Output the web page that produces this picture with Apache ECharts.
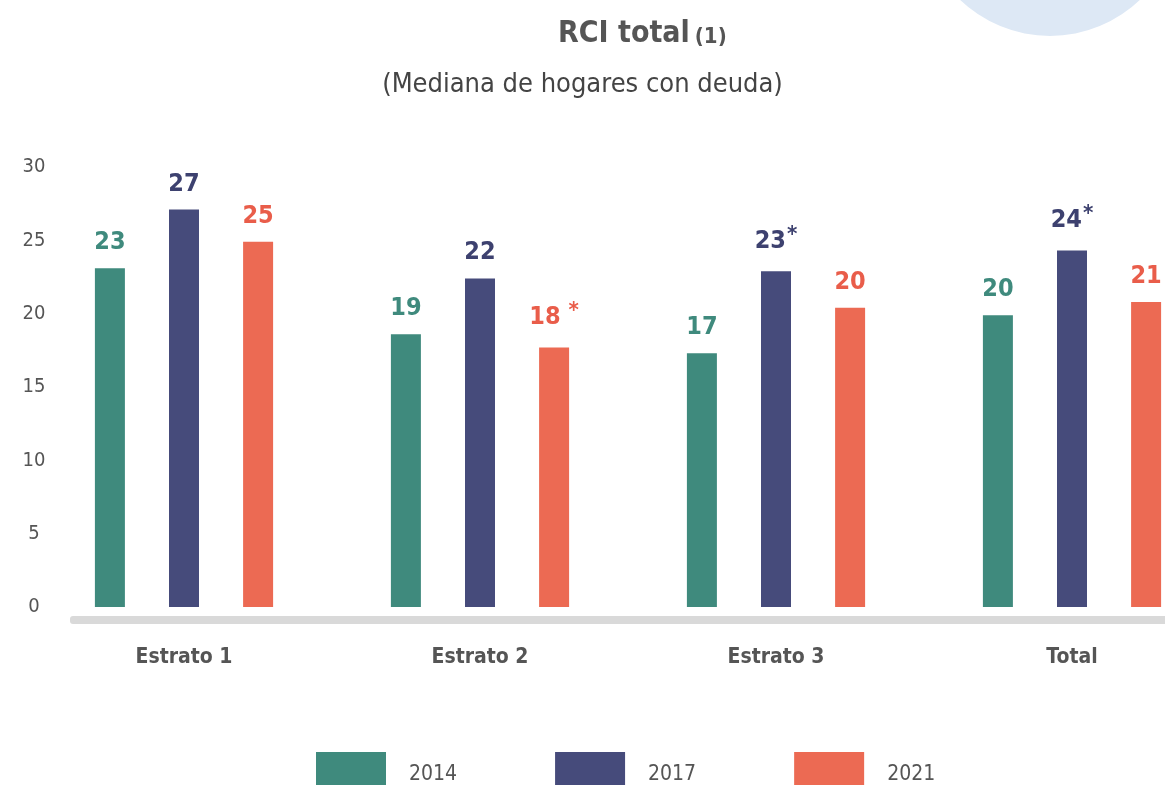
<!DOCTYPE html>
<html>
<head>
<meta charset="utf-8">
<script src="https://cdn.jsdelivr.net/npm/echarts@6/dist/echarts.min.js"></script>
<style>
  html, body { margin: 0; padding: 0; background: #fff; }
  #chart { width: 1165px; height: 785px; }
</style>
</head>
<body>
<div id="chart"></div>
<script>
const categories = ['Estrato 1', 'Estrato 2', 'Estrato 3', 'Total'];
const years = ['2014', '2017', '2021'];
const values2014 = [23.1, 18.6, 17.3, 19.9];
const values2017 = [27.1, 22.4, 22.9, 24.3];
const values2021 = [24.9, 17.7, 20.4, 20.8];
// asterisk marks on the value labels
const star2014 = [false, false, false, false];
const star2017 = [false, false, true, true];
const star2021 = [false, true, false, false];
const yTicks = [0, 5, 10, 15, 20, 25, 30];

const FONT = '"Liberation Sans Narrow", "DejaVu Sans Condensed", "Noto Sans", sans-serif';
const barColors = ['#3f8a7d', '#464b7b', '#ec6a53'];
const labelColors = ['#3f8a7d', '#3d416f', '#e95d4a'];

function makeSeries(name, values, stars, i) {
  return {
    name: name,
    type: 'bar',
    barWidth: 30,
    barGap: '147%',
    data: values,
    itemStyle: { color: barColors[i] },
    label: {
      show: true,
      position: 'top',
      distance: 13,
      fontFamily: FONT,
      formatter: p => {
        const v = Math.round(p.value);
        const s = stars[p.dataIndex];
        return s ? '{v|' + v + '}{s|' + (i === 2 ? ' *' : '*') + '}' : '{v|' + v + '}';
      },
      rich: {
        v: { fontSize: 25, fontWeight: 'bold', color: labelColors[i], fontFamily: FONT },
        s: { fontSize: 22, fontWeight: 'bold', color: labelColors[i], fontFamily: FONT, verticalAlign: 'top', padding: [0, 0, 12, 1] }
      }
    }
  };
}

const chart = echarts.init(document.getElementById('chart'));
chart.setOption({
  backgroundColor: '#ffffff',
  animation: false,
  title: [
    {
      text: '{a|RCI total} {b|(1)}',
      left: 553,
      top: 14,
      textStyle: {
        rich: {
          a: { fontSize: 30, fontWeight: 'bold', color: '#555555', fontFamily: FONT, verticalAlign: 'bottom' },
          b: { fontSize: 22, fontWeight: 'bold', color: '#555555', fontFamily: FONT, verticalAlign: 'bottom', padding: [0, 0, 1, 0] }
        }
      }
    },
    {
      text: '(Mediana de hogares con deuda)',
      left: 'center',
      top: 66,
      textStyle: { fontSize: 27, fontWeight: 'normal', color: '#444444', fontFamily: FONT }
    }
  ],
  graphic: [
    {
      type: 'circle',
      shape: { cx: 1050, cy: -94, r: 130 },
      style: { fill: '#dde8f5' },
      z: -1
    },
    {
      type: 'rect',
      shape: { x: 70, y: 616, width: 1100, height: 8, r: 3 },
      style: { fill: '#d9d9d9' },
      z: -1
    }
  ],
  grid: { left: 36, width: 1184, top: 167, bottom: 178, containLabel: false, outerBoundsMode: 'none' },
  legend: {
    data: years,
    left: 311,
    top: 747,
    itemWidth: 70,
    itemHeight: 46,
    itemGap: 98,
    icon: 'rect',
    textStyle: { fontSize: 21, color: '#555555', fontFamily: FONT, padding: [0, 0, 0, 18] }
  },
  xAxis: {
    type: 'category',
    data: categories,
    axisLine: { show: false },
    axisTick: { show: false },
    axisLabel: {
      margin: 40,
      fontSize: 21,
      fontWeight: 'bold',
      color: '#555555',
      fontFamily: FONT
    }
  },
  yAxis: {
    type: 'value',
    min: 0,
    max: 30,
    interval: 5,
    splitLine: { show: false },
    axisLine: { show: false },
    axisTick: { show: false },
    axisLabel: {
      margin: 2,
      align: 'center',
      fontSize: 20,
      color: '#555555',
      fontFamily: FONT,
      formatter: v => (yTicks.indexOf(v) >= 0 ? String(v) : '')
    }
  },
  series: [
    makeSeries(years[0], values2014, star2014, 0),
    makeSeries(years[1], values2017, star2017, 1),
    makeSeries(years[2], values2021, star2021, 2)
  ]
});
</script>
</body>
</html>
